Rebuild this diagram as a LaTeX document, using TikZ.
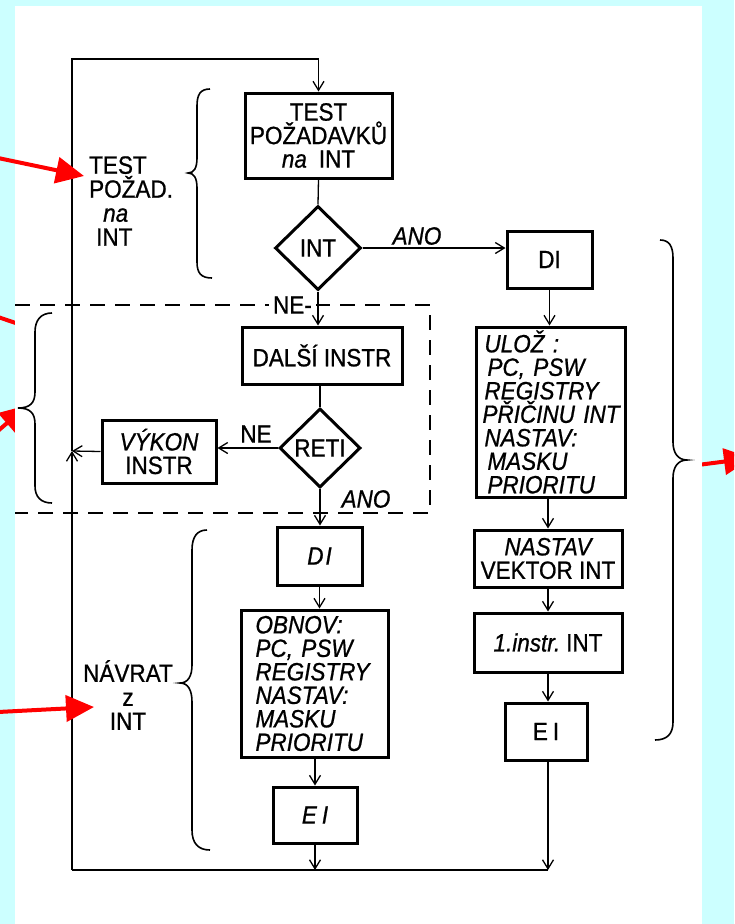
\documentclass[tikz,border=0pt]{standalone}
\usepackage{fontspec}
\setmainfont{Liberation Sans}[FakeStretch=0.9, FakeBold=0.8]
\usetikzlibrary{arrows.meta,shapes.geometric}
\definecolor{bgcyan}{RGB}{204,255,255}
\definecolor{arrred}{RGB}{255,0,0}
\begin{document}
\begin{tikzpicture}[x=1pt,y=-1pt,
  box/.style={draw, line width=3pt, rectangle, inner sep=0pt, font=\fontsize{25}{23.5}\selectfont},
  dia/.style={draw, line width=3pt, diamond, inner sep=0pt, font=\fontsize{25}{23.5}\selectfont},
  conn/.style={line width=1.3pt, -{Straight Barb[length=9pt,width=11pt,line width=1.3pt]}},
  plain/.style={line width=1.3pt},
  lbl/.style={font=\fontsize{25}{24}\selectfont, inner sep=1pt},
  brc/.style={line width=1.6pt},
  redarr/.style={draw=arrred, line width=4pt, -{Triangle[length=28pt,width=26pt]}},
  dashbox/.style={line width=2pt, dash pattern=on 15pt off 10pt},
]
\useasboundingbox (0,0) rectangle (734,924);
\clip (0,0) rectangle (734,924);
\fill[bgcyan] (0,0) rectangle (734,924);

% red arrows partly hidden behind the panel
\coordinate (r2s) at (-2,317);  \coordinate (r2e) at (48,334);
\coordinate (r3s) at (-30,455); \coordinate (r3e) at (28,405);
\coordinate (r4s) at (690,466); \coordinate (r4e) at (752,458);
\draw[redarr] (r2s) -- (r2e);
\draw[redarr] (r3s) -- (r3e);
\draw[redarr] (r4s) -- (r4e);

% white panel
\fill[white] (15,6) rectangle (702,924);

% dashed region
\draw[dashbox] (15,305) -- (430,305) -- (430,513) -- (15,513);

% nodes, main column
\node[box, minimum width=147pt, minimum height=85pt, align=center] (test) at (318.5,135.5)
  {TEST\\POŽADAVKŮ\\{\itshape na}\hspace{12pt}INT};
\node[dia, minimum width=86pt, minimum height=84pt] (int) at (318,248) {INT};
\node[box, minimum width=160pt, minimum height=57pt] (dalsi) at (322,355.5) {DALŠÍ INSTR};
\node[dia, minimum width=81pt, minimum height=79pt] (reti) at (320,448) {RETI};
\node[box, minimum width=114pt, minimum height=63pt, align=center] (vykon) at (159,451.5)
  {{\itshape VÝKON}\\INSTR};
\node[box, minimum width=85pt, minimum height=58pt] (di2) at (319.5,556) {\itshape D\hspace{2pt}I};
\node[box, minimum width=147pt, minimum height=147pt, align=left, text width=118pt] (obnov) at (314.5,683.5)
  {\itshape OBNOV:\\PC, PSW\\REGISTRY\\NASTAV:\\MASKU\\PRIORITU};
\node[box, minimum width=84pt, minimum height=56pt] (ei2) at (315,815) {\itshape E\hspace{5pt}I};

% right column
\node[box, minimum width=85pt, minimum height=57pt] (di1) at (549.5,259.5) {DI};
\node[box, minimum width=149pt, minimum height=170pt, align=left, text width=136pt] (uloz) at (550.5,412)
  {\itshape \hspace*{2pt}ULOŽ :\\\hspace*{5pt}PC, PSW\\\hspace*{2pt}REGISTRY\\\mbox{PŘIČINU INT}\\\hspace*{2pt}NASTAV:\\\hspace*{5pt}MASKU\\\hspace*{5pt}PRIORITU};
\node[box, minimum width=148pt, minimum height=57pt, align=center] (vektor) at (548,558.5)
  {\itshape NASTAV\\VEKTOR INT};
\node[box, minimum width=148pt, minimum height=59pt] (instr) at (548,642.5) {{\itshape 1.instr.}\hspace{6pt}INT};
\node[box, minimum width=82pt, minimum height=57pt] (ei1) at (546,731.5) {E\hspace{5pt}I};

% labels
\node[lbl, anchor=west, align=left] (testlbl) at (88,201)
  {TEST\\POŽAD.\\\hspace*{14pt}{\itshape na}\\\hspace*{7pt}INT};
\node[lbl, align=center] (navlbl) at (128,695) {NÁVRAT\\z\\INT};
\node[lbl, font=\fontsize{25}{24}\selectfont\itshape] (ano1) at (417,236) {ANO};
\node[lbl, fill=white, inner ysep=0pt, inner xsep=4pt, anchor=east] (ne1) at (316,305) {NE-};
\node[lbl] (ne2) at (256,434) {NE};
\node[lbl, font=\fontsize{25}{24}\selectfont\itshape] (ano2) at (366,499) {ANO};

% loop coordinates
\coordinate (tl) at (72,59);
\coordinate (bl) at (72,870);
\coordinate (br) at (548,870);
\coordinate (jn) at (72,451);

% connectors
\draw[conn] (jn) -- (tl) -| (test.north);
\draw[plain] (test.south) -- (int.north);
\draw[conn] (int.south) -- (int.south |- dalsi.north);
\draw[plain] (dalsi.south -| reti.north) -- (reti.north);
\draw[conn] (reti.west) -- (reti.west -| vykon.east);
\draw[conn] (vykon.west) -- (jn);
\draw[conn] (bl) -- (jn);
\draw[conn] (reti.south) -- (reti.south |- di2.north);
\draw[conn] (di2.south) -- (di2.south |- obnov.north);
\draw[conn] (ei2.north |- obnov.south) -- (ei2.north);
\draw[conn] (ei2.south) -- (ei2.south |- bl);
\draw[plain] (bl) -- (br);

\draw[conn] (int.east) -- (int.east -| di1.west);
\draw[conn] (di1.south) -- (di1.south |- uloz.north);
\draw[conn] (uloz.south -| vektor.north) -- (vektor.north);
\draw[conn] (vektor.south) -- (instr.north);
\draw[conn] (instr.south) -- (instr.south |- ei1.north);
\draw[conn] (instr.south |- ei1.south) -- (br);

% braces
\draw[brc] (210,89) .. controls (200,89) and (197,95) .. (197,106) -- (197,158)
  .. controls (197,168) and (194,173) .. (188,173) .. controls (194,173) and (197,178) .. (197,188)
  -- (197,262) .. controls (197,273) and (201,278) .. (212,278);
\draw[brc] (52,313) .. controls (41,313) and (35,320) .. (35,332) -- (35,392)
  .. controls (35,403) and (30,408) .. (18,408) .. controls (30,408) and (35,413) .. (35,424)
  -- (35,486) .. controls (35,497) and (41,503) .. (52,503);
\draw[brc] (207,530) .. controls (197,530) and (192,537) .. (192,550) -- (192,665)
  .. controls (192,676) and (188,683) .. (180,683) .. controls (188,683) and (192,690) .. (192,702)
  -- (192,830) .. controls (192,843) and (198,850) .. (210,850);
\draw[brc] (660,240) .. controls (669,240) and (673,246) .. (673,258) -- (673,442)
  .. controls (673,453) and (678,460) .. (687,460) .. controls (678,460) and (673,467) .. (673,478)
  -- (673,722) .. controls (673,734) and (667,740) .. (655,740);

% red arrows on top
\coordinate (r1s) at (-2,158); \coordinate (r1e) at (84,176);
\coordinate (r5s) at (-2,712); \coordinate (r5e) at (94,707);
\draw[redarr] (r1s) -- (r1e);
\draw[redarr] (r5s) -- (r5e);
\end{tikzpicture}
\end{document}
